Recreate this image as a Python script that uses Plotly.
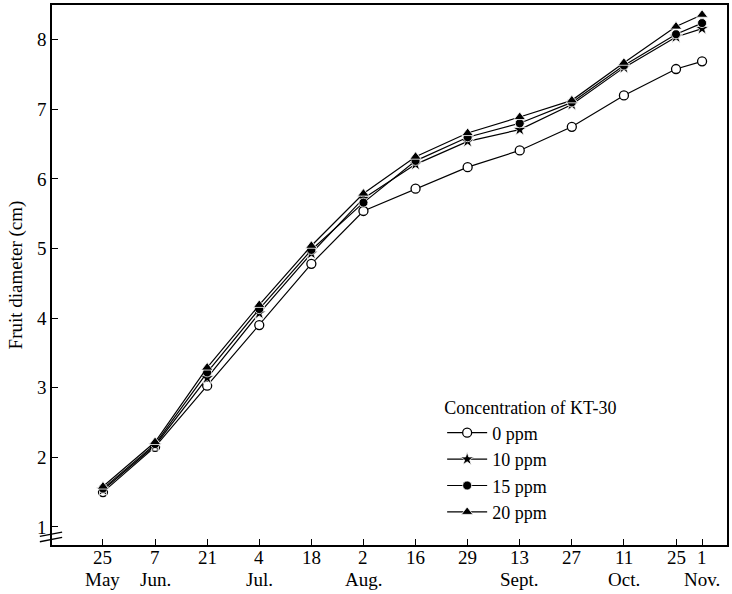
import plotly.graph_objects as go

days = [0, 14, 28, 42, 56, 70, 84, 98, 112, 126, 140, 154, 161]
day_labels = ["25", "7", "21", "4", "18", "2", "16", "29", "13", "27", "11", "25", "1"]
month_days = [0, 14, 42, 70, 112, 140, 161]
month_labels = ["May", "Jun.", "Jul.", "Aug.", "Sept.", "Oct.", "Nov."]

ppm0 = [1.50, 2.15, 3.03, 3.90, 4.78, 5.54, 5.86, 6.17, 6.41, 6.75, 7.20, 7.58, 7.69]
ppm10 = [1.53, 2.17, 3.14, 4.07, 4.93, 5.72, 6.21, 6.54, 6.71, 7.07, 7.60, 8.04, 8.16]
ppm15 = [1.55, 2.19, 3.22, 4.13, 4.98, 5.66, 6.26, 6.60, 6.80, 7.10, 7.63, 8.08, 8.24]
ppm20 = [1.58, 2.22, 3.29, 4.19, 5.04, 5.79, 6.32, 6.66, 6.89, 7.13, 7.67, 8.19, 8.36]

series = [
    ("0 ppm", ppm0, dict(symbol="circle", size=9, color="white", line=dict(color="black", width=1.3))),
    ("10 ppm", ppm10, dict(symbol="star", size=10, color="black", line=dict(color="white", width=0.8))),
    ("15 ppm", ppm15, dict(symbol="circle", size=9, color="black", line=dict(color="white", width=0.8))),
    ("20 ppm", ppm20, dict(symbol="triangle-up", size=10, color="black", line=dict(color="white", width=0.8))),
]

fig = go.Figure()
for name, vals, mk in series:
    fig.add_trace(go.Scatter(
        x=days, y=vals, mode="lines+markers", name=name,
        line=dict(color="black", width=1.2), marker=mk,
    ))

font_family = "Liberation Serif, DejaVu Serif, serif"

fig.update_layout(
    width=732, height=594,
    margin=dict(l=52, r=5, t=5, b=49),
    paper_bgcolor="white", plot_bgcolor="white",
    font=dict(family=font_family, size=18, color="black"),
    showlegend=True,
    legend=dict(
        x=0.578, y=0.285, xanchor="left", yanchor="top",
        title=dict(text="Concentration of KT-30", font=dict(size=18)),
        font=dict(size=18), bgcolor="rgba(0,0,0,0)",
        tracegroupgap=0, itemwidth=40,
    ),
    xaxis=dict(
        range=[-13.7, 167.7], tickmode="array", tickvals=days, showticklabels=False,
        automargin=False,
        ticks="inside", ticklen=6, tickcolor="black", showgrid=False, zeroline=False,
        showline=True, linecolor="black", linewidth=1.5, mirror=True,
    ),
    yaxis=dict(
        range=[0.74, 8.5], tickmode="array", tickvals=[1, 2, 3, 4, 5, 6, 7, 8],
        automargin=False,
        ticks="inside", ticklen=6, tickcolor="black", showgrid=False, zeroline=False,
        showline=True, linecolor="black", linewidth=1.5, mirror=True,
        tickfont=dict(size=19),
        title=dict(text="Fruit diameter (cm)", standoff=9, font=dict(size=19)),
    ),
)

for d, t in zip(days, day_labels):
    fig.add_annotation(x=d, y=-0.024, xref="x", yref="paper", text=t,
                       showarrow=False, yanchor="middle", xanchor="center",
                       font=dict(size=19, family=font_family))

for d, m in zip(month_days, month_labels):
    fig.add_annotation(x=d, y=-0.063, xref="x", yref="paper", text=m,
                       showarrow=False, yanchor="middle", xanchor="center",
                       font=dict(size=19, family=font_family))

# axis break mark near the bottom of the y axis
for dy in (0.0, 0.010):
    fig.add_shape(type="line", xref="paper", yref="paper",
                  x0=-0.018, x1=0.015, y0=0.006 + dy, y1=0.014 + dy,
                  line=dict(color="black", width=1.3))

fig.write_html("out.html", config={"displayModeBar": False},
               post_script="document.body.style.margin='0';")
